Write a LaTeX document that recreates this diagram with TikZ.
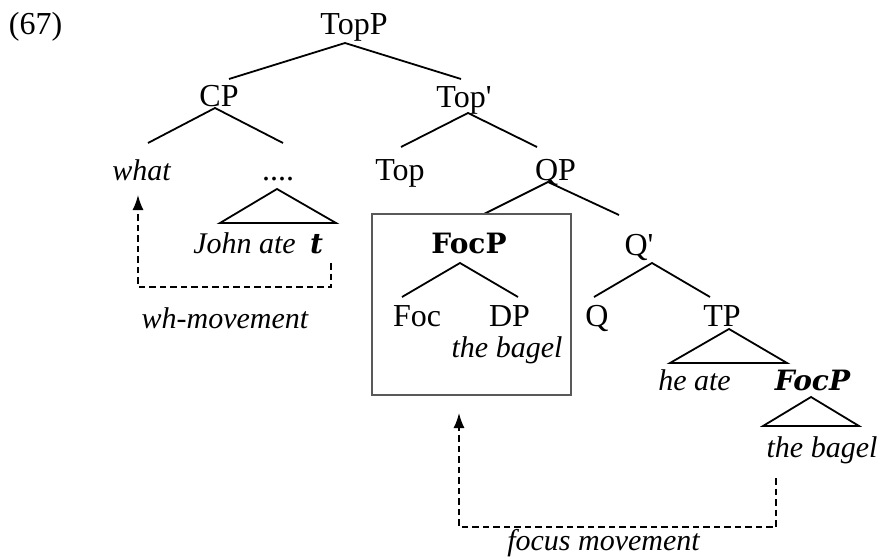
\documentclass[tikz,border=0pt]{standalone}
\usepackage{fontspec}
\setmainfont{Liberation Serif}
\newfontfamily\dvs{DejaVu Serif}
\usetikzlibrary{arrows.meta}
\begin{document}
\begin{tikzpicture}[x=1pt,y=-1pt,
  lbl/.style={inner sep=0pt, anchor=base, font=\fontsize{32}{38}\selectfont},
  itl/.style={inner sep=0pt, anchor=base, font=\fontsize{30}{36}\selectfont\itshape},
  bld/.style={inner sep=0pt, anchor=base, font=\fontsize{28}{34}\selectfont\dvs\bfseries},
  bldit/.style={inner sep=0pt, anchor=base, font=\fontsize{28}{34}\selectfont\dvs\bfseries\itshape},
  br/.style={line width=1.8pt, line join=miter},
  mv/.style={dash pattern=on 6.5pt off 4pt, line width=1.6pt},
  mvarrow/.style={mv, -{Latex[length=15pt,width=11pt]}},
  focbox/.style={draw=black!65, line width=1.1pt}
  ]
\useasboundingbox (0,0) rectangle (882,556);
% nodes
\node[lbl] (n67) at (35.5,35) {(67)};
\node[lbl] (TopP) at (354,35) {TopP};
\node[lbl] (CP) at (219,107) {CP};
\node[lbl] (Topbar) at (464,108) {Top\textquotesingle};
\node[itl] (what) at (141.5,180) {what};
\node[lbl] (dots) at (278,180) {....};
\node[lbl] (Top) at (400,180) {Top};
\node[lbl] (QP) at (555.5,180) {QP};
\node[itl] (johnate) at (244.5,253) {John ate};
\node[bldit] (trace) at (316.5,253) {t};
\node[itl] (whmove) at (225,328) {wh-movement};
\node[bld] (FocP) at (469,253) {FocP};
\node[lbl] (Foc) at (417,326) {Foc};
\node[lbl] (DP) at (509.5,326) {DP};
\node[itl] (bagelA) at (507,357) {the bagel};
\node[lbl] (Qbar) at (639,255) {Q\textquotesingle};
\node[lbl] (Q) at (597,326) {Q};
\node[lbl] (TP) at (722,326) {TP};
\node[itl] (heate) at (694.5,390) {he ate};
\node[bldit] (FocPt) at (812.5,390) {FocP};
\node[itl] (bagelB) at (822,457) {the bagel};
\node[itl] (focmove) at (603.5,550) {focus movement};
% branch points
\coordinate (TopP-a) at (345,43);
\coordinate (CP-t) at (229,79);
\coordinate (Topbar-t) at (461,79);
\coordinate (CP-a) at (215,108);
\coordinate (what-t) at (148,143);
\coordinate (dots-t) at (283,143);
\coordinate (Topbar-a) at (468,113);
\coordinate (Top-t) at (401,147);
\coordinate (QP-t) at (537,147);
\coordinate (QP-a) at (548,182);
\coordinate (box-t) at (484,214);
\coordinate (Qbar-t) at (619,215);
\coordinate (dots-a) at (277,189);
\coordinate (triA-l) at (220,223);
\coordinate (triA-r) at (336,223);
\coordinate (FocP-a) at (460,263);
\coordinate (Foc-t) at (402,297);
\coordinate (DP-t) at (518,297);
\coordinate (Qbar-a) at (652,263);
\coordinate (Q-t) at (594,297);
\coordinate (TP-t) at (710,297);
\coordinate (TP-a) at (729,329);
\coordinate (triB-l) at (670,363);
\coordinate (triB-r) at (787,363);
\coordinate (FocPt-a) at (811,397);
\coordinate (triC-l) at (763,426);
\coordinate (triC-r) at (859,426);
\coordinate (box-nw) at (372,214);
\coordinate (box-se) at (571,395);
\coordinate (wh-s) at (331,263);
\coordinate (wh-c1) at (331,287);
\coordinate (wh-c2) at (138,287);
\coordinate (wh-e) at (138,195);
\coordinate (fm-s) at (776,478);
\coordinate (fm-c1) at (776,527);
\coordinate (fm-c2) at (459,527);
\coordinate (fm-e) at (459,413);
% branches
\draw[br] (CP-t) -- (TopP-a) -- (Topbar-t);
\draw[br] (what-t) -- (CP-a) -- (dots-t);
\draw[br] (Top-t) -- (Topbar-a) -- (QP-t);
\draw[br] (box-t) -- (QP-a) -- (Qbar-t);
\draw[br] (dots-a) -- (triA-l) -- (triA-r) -- cycle;
\draw[br] (Foc-t) -- (FocP-a) -- (DP-t);
\draw[br] (Q-t) -- (Qbar-a) -- (TP-t);
\draw[br] (TP-a) -- (triB-l) -- (triB-r) -- cycle;
\draw[br] (FocPt-a) -- (triC-l) -- (triC-r) -- cycle;
% box
\draw[focbox] (box-nw) rectangle (box-se);
% movement arrows
\draw[mvarrow] (wh-s) -- (wh-c1) -- (wh-c2) -- (wh-e);
\draw[mvarrow] (fm-s) -- (fm-c1) -- (fm-c2) -- (fm-e);
\end{tikzpicture}
\end{document}
